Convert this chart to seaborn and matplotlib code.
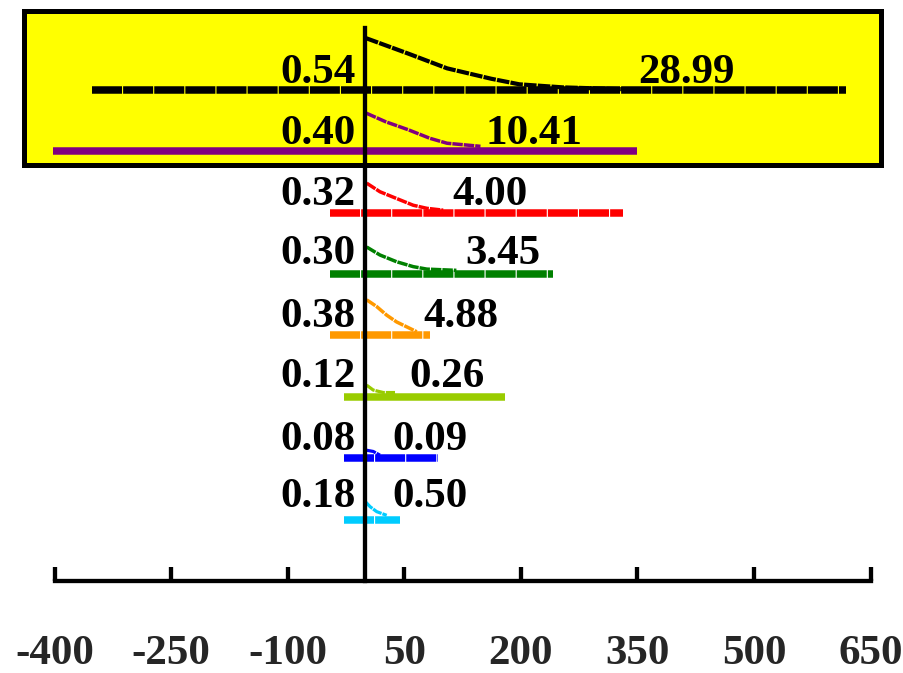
import matplotlib
matplotlib.use("Agg")
import matplotlib.pyplot as plt
import seaborn as sns
import pandas as pd
from matplotlib.patches import Rectangle

sns.set_theme(style="white")
plt.rcParams['font.family'] = ['Liberation Serif', 'DejaVu Serif']
plt.rcParams['font.weight'] = 'bold'

# ---------------- data ----------------
rows = [8, 7, 6, 5, 4, 3, 2, 1]
colors = ['#000000', '#800080', '#FF0000', '#008000', '#FF9900', '#99CC00', '#0000FF', '#00CCFF']
left_labels = ['0.54', '0.40', '0.32', '0.30', '0.38', '0.12', '0.08', '0.18']
right_labels = ['28.99', '10.41', '4.00', '3.45', '4.88', '0.26', '0.09', '0.50']
bar_start = [-352, -402, -46, -46, -46, -28, -28, -28]
bar_end = [618, 349, 331, 241, 83, 180, 93, 44]
bar_dashed = [True, False, True, True, True, False, True, True]

curve_black_x = [1, 55, 105, 162, 198, 254, 333]
curve_black_y = [8.84, 8.59, 8.35, 8.18, 8.09, 8.04, 8.01]
curve_purple_x = [1, 26, 55, 83, 105, 148]
curve_purple_y = [7.62, 7.48, 7.35, 7.21, 7.13, 7.08]
curve_red_x = [1.5, 18.6, 40, 61.5, 79, 100]
curve_red_y = [6.48, 6.34, 6.23, 6.12, 6.07, 6.04]
curve_green_x = [1.5, 18.6, 40, 61.5, 79, 117]
curve_green_y = [5.44, 5.31, 5.20, 5.12, 5.08, 5.06]
curve_orange_x = [1.5, 14.4, 27.3, 40, 53, 66]
curve_orange_y = [4.58, 4.47, 4.33, 4.22, 4.14, 4.06]
curve_ygreen_x = [1.5, 10, 23, 38]
curve_ygreen_y = [3.19, 3.11, 3.07, 3.07]
curve_blue_x = [1.5, 10, 18.6]
curve_blue_y = [2.13, 2.11, 2.05]
curve_cyan_x = [0, 6, 14.4, 27.3]
curve_cyan_y = [1.29, 1.21, 1.13, 1.07]

x_ticks = [-400, -250, -100, 50, 200, 350, 500, 650]

curves_x = [curve_black_x, curve_purple_x, curve_red_x, curve_green_x,
            curve_orange_x, curve_ygreen_x, curve_blue_x, curve_cyan_x]
curves_y = [curve_black_y, curve_purple_y, curve_red_y, curve_green_y,
            curve_orange_y, curve_ygreen_y, curve_blue_y, curve_cyan_y]

# ---------------- layout ----------------
left_label_x = -13
right_label_x = [351, 155, 112, 128, 74, 57, 34, 34]
label_offset = [0.11, 0.11, 0.12, 0.17, 0.14, 0.16, 0.13, 0.21]
curve_widths = [3.0, 2.5, 2.5, 2.5, 2.5, 2.3, 2.3, 2.3]

fig = plt.figure(figsize=(9.04, 6.73), dpi=100)
ax = fig.add_axes([0, 0, 1, 1])
ax.set_xlim(-470.4, 693.1)
ax.set_ylim(-1.498, 9.463)
ax.patch.set_alpha(0)

# highlight box
ax.add_patch(Rectangle((-439.5, 6.78), 1103.5, 2.5, facecolor='#FFFF00',
                       edgecolor='black', lw=3.6, zorder=0))

# bars
for r, c, s, e, d in zip(rows, colors, bar_start, bar_end, bar_dashed):
    ls = (0, (4, 0.15)) if d else '-'
    ax.hlines(r, s, e, colors=c, linewidth=5.4, linestyles=[ls], zorder=2,
              capstyle='butt')

# curves
for i, (cx, cy, c) in enumerate(zip(curves_x, curves_y, colors)):
    df = pd.DataFrame({'x': cx, 'y': cy})
    sns.lineplot(data=df, x='x', y='y', ax=ax, color=c, sort=False,
                 estimator=None, linewidth=curve_widths[i], dashes=False, zorder=3)
    ax.lines[-1].set_linestyle((0, (3, 0.3)))

# labels
for i, r in enumerate(rows):
    ax.text(left_label_x, r + label_offset[i], left_labels[i], ha='right', va='baseline',
            fontsize=31, fontweight='bold', color='black', zorder=4)
    ax.text(right_label_x[i], r + label_offset[i], right_labels[i], ha='left', va='baseline',
            fontsize=31, fontweight='bold', color='black', zorder=4)

# axes
for sp in ['top', 'right']:
    ax.spines[sp].set_visible(False)
ax.spines['bottom'].set_position(('data', 0))
ax.spines['bottom'].set_bounds(-400, 650)
ax.spines['bottom'].set_linewidth(3.1)
ax.spines['bottom'].set_color('black')
ax.spines['left'].set_position(('data', 0))
ax.spines['left'].set_bounds(0, 9)
ax.spines['left'].set_linewidth(3.1)
ax.spines['left'].set_color('black')
ax.spines['left'].set_zorder(3.5)

ax.set_xticks(x_ticks)
ax.set_xticklabels([str(t) for t in x_ticks], fontsize=31, fontweight='bold')
ax.set_yticks([])
ax.tick_params(axis='x', direction='in', length=10, width=3.1, pad=39,
               color='black', bottom=True)
ax.set_xlabel('')
ax.set_ylabel('')

fig.savefig('out.png', dpi=100)
